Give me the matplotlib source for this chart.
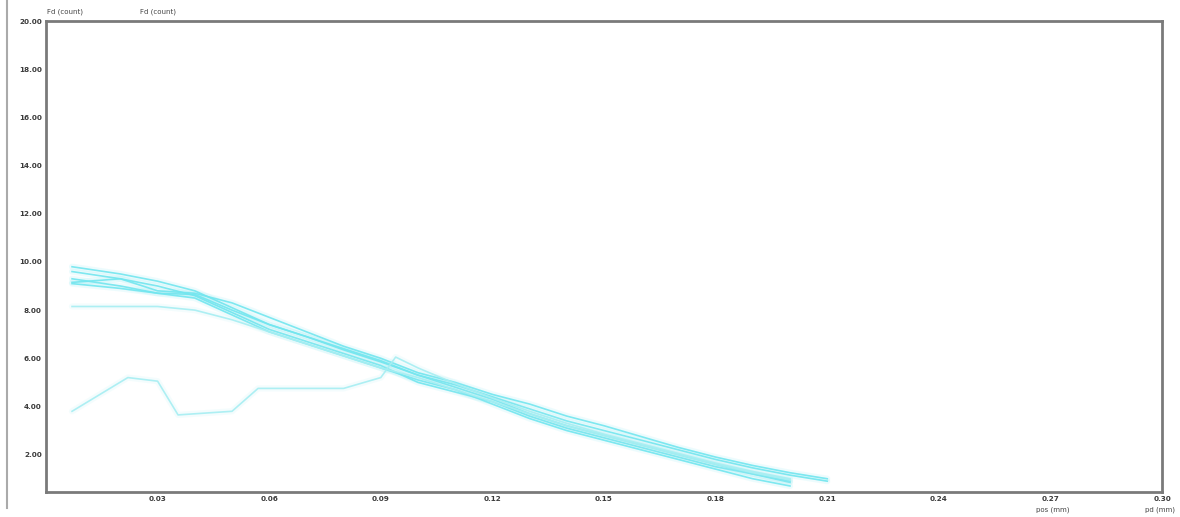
import matplotlib
matplotlib.use("Agg")
import matplotlib.pyplot as plt
from matplotlib.lines import Line2D

# ---- data ----
x_grid = [0.007, 0.02, 0.03, 0.04, 0.05, 0.06, 0.07, 0.08, 0.09, 0.10, 0.11,
          0.12, 0.13, 0.14, 0.15, 0.16, 0.17, 0.18, 0.19, 0.20, 0.21]

s1 = [9.8, 9.5, 9.2, 8.8, 8.1, 7.4, 6.9, 6.35, 5.85, 5.3, 4.9, 4.4, 3.9, 3.4,
      3.0, 2.6, 2.2, 1.8, 1.45, 1.15, 0.9]
s2 = [9.6, 9.3, 9.0, 8.6, 7.9, 7.2, 6.7, 6.2, 5.7, 5.0, 4.6, 4.2, 3.6, 3.1,
      2.7, 2.3, 1.9, 1.5, 1.2, 0.85]
s3 = [9.15, 9.3, 8.8, 8.7, 8.3, 7.7, 7.1, 6.5, 6.0, 5.4, 5.0, 4.5, 4.1, 3.6,
      3.2, 2.75, 2.3, 1.9, 1.55, 1.25, 1.0]
s4 = [9.3, 9.0, 8.7, 8.65, 8.0, 7.4, 6.9, 6.4, 5.9, 5.3, 4.8, 4.3, 3.7, 3.2,
      2.8, 2.4, 2.0, 1.6, 1.2, 0.9]
s5 = [9.1, 8.9, 8.7, 8.5, 7.8, 7.1, 6.6, 6.1, 5.6, 5.1, 4.7, 4.1, 3.5, 3.0,
      2.6, 2.2, 1.8, 1.4, 1.0, 0.7]
s6 = [8.15, 8.15, 8.15, 8.0, 7.6, 7.1, 6.6, 6.1, 5.6, 5.2, 4.7, 4.2, 3.7, 3.2,
      2.8, 2.4, 2.0, 1.6, 1.25, 0.95]

x_low = [0.007, 0.022, 0.03, 0.0355, 0.05, 0.057, 0.08, 0.09, 0.094, 0.10,
         0.11, 0.12, 0.13, 0.14, 0.15, 0.16, 0.17, 0.18, 0.19, 0.20]
s_low = [3.8, 5.2, 5.05, 3.65, 3.8, 4.75, 4.75, 5.2, 6.05, 5.6, 4.95, 4.35,
         3.8, 3.3, 2.85, 2.45, 2.05, 1.65, 1.3, 1.0]

series = [s1, s2, s3, s4, s5]

y_ticks = [2, 4, 6, 8, 10, 12, 14, 16, 18, 20]
x_ticks = [0.03, 0.06, 0.09, 0.12, 0.15, 0.18, 0.21, 0.24, 0.27, 0.30]

top_labels = ["Fd (count)", "Fd (count)"]
bottom_labels = ["pos (mm)", "pd (mm)"]

line_color = "#72e6ef"
faint_color = "#a6eef2"

# ---- figure ----
fig = plt.figure(figsize=(11.8, 5.17), dpi=100)
ax = fig.add_axes([46 / 1180, 1 - 492 / 517, (1162 - 46) / 1180, (492 - 21) / 517])

def draw(xs, ys, color, alpha):
    ax.plot(xs, ys, color=color, lw=4.5, alpha=0.12, solid_capstyle="round")
    ax.plot(xs, ys, color=color, lw=1.2, alpha=alpha)

for s in series:
    draw(x_grid[:len(s)], s, line_color, 0.9)
draw(x_grid[:len(s6)], s6, faint_color, 0.9)
draw(x_low, s_low, faint_color, 0.9)

ax.set_xlim(0, 0.30)
ax.set_ylim(0.45, 20)
ax.set_xticks(x_ticks)
ax.set_xticklabels([f"{v:.2f}" for v in x_ticks])
ax.set_yticks(y_ticks)
ax.set_yticklabels([f"{v:.2f}" for v in y_ticks])
ax.tick_params(length=0, labelsize=5.2, colors="#3a3a3a", pad=3)
for lbl in ax.get_xticklabels() + ax.get_yticklabels():
    lbl.set_fontweight("bold")

for side in ["left", "bottom", "right", "top"]:
    ax.spines[side].set_color("#7a7a7a")
    ax.spines[side].set_linewidth(2)

# left border line of the whole picture
fig.add_artist(Line2D([7 / 1180, 7 / 1180], [1 - 508 / 517, 1.0],
                      transform=fig.transFigure, color="#aaaaaa", lw=1.5))

fig.text(47 / 1180, 1 - 12 / 517, top_labels[0], fontsize=5, color="#444444",
         ha="left", va="center")
fig.text(140 / 1180, 1 - 12 / 517, top_labels[1], fontsize=5, color="#444444",
         ha="left", va="center")
fig.text(1053 / 1180, 1 - 510 / 517, bottom_labels[0], fontsize=5, color="#444444",
         ha="center", va="center")
fig.text(1160 / 1180, 1 - 510 / 517, bottom_labels[1], fontsize=5, color="#444444",
         ha="center", va="center")

fig.savefig("out.png", dpi=100, facecolor="white")
